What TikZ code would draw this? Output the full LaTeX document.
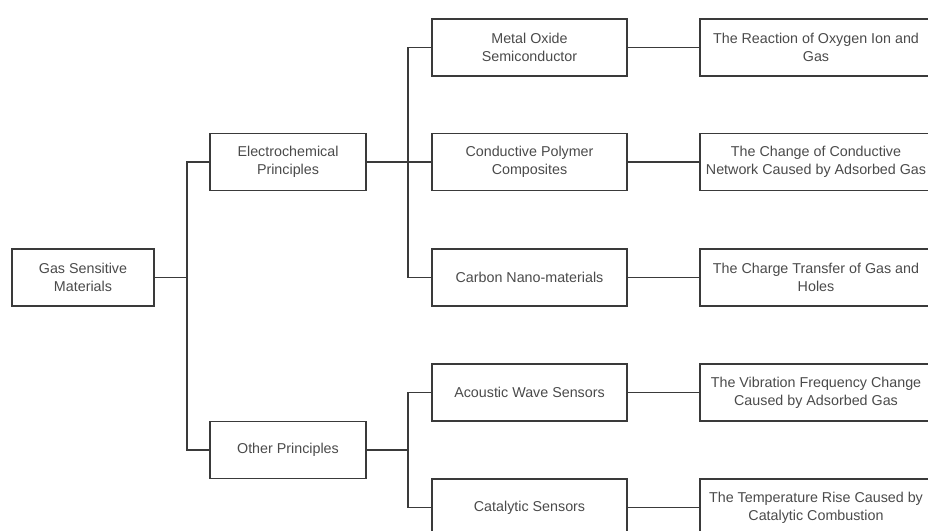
\documentclass[tikz,border=0pt]{standalone}
\usepackage{fontspec}
\setmainfont{Liberation Sans}
\definecolor{linec}{HTML}{3A3A3A}
\definecolor{textc}{HTML}{4A4A4A}
\begin{document}
\begin{tikzpicture}[x=1pt,y=-1pt,
  box/.style={draw=linec, line width=1.3pt, rectangle, align=center, minimum height=57pt,
    inner sep=2pt, text=textc, font=\fontsize{14.3}{18}\selectfont},
  b0/.style={box, minimum width=142pt},
  b1/.style={box, minimum width=156pt},
  b2/.style={box, minimum width=195pt},
  b3/.style={box, minimum width=232pt},
  conn/.style={draw=linec, line width=1.2pt}]
\useasboundingbox (0,0) rectangle (928,530);
\clip (0,0) rectangle (928,530);
\node[b0] (gsm) at (83,277.5) {Gas Sensitive\\Materials};
\node[b1] (ec) at (288,162) {Electrochemical\\Principles};
\node[b1] (op) at (288,450) {Other Principles};
\node[b2] (mo) at (529.5,47.5) {Metal Oxide\\Semiconductor};
\node[b2] (cp) at (529.5,162) {Conductive Polymer\\Composites};
\node[b2] (cn) at (529.5,277.5) {Carbon Nano-materials};
\node[b2] (aw) at (529.5,392.5) {Acoustic Wave Sensors};
\node[b2] (cs) at (529.5,507.5) {Catalytic Sensors};
\node[b3] (r1) at (816,47.5) {The Reaction of Oxygen Ion and\\Gas};
\node[b3] (r2) at (816,162) {The Change of Conductive\\Network Caused by Adsorbed Gas};
\node[b3] (r3) at (816,277.5) {The Charge Transfer of Gas and\\Holes};
\node[b3] (r4) at (816,392.5) {The Vibration Frequency Change\\Caused by Adsorbed Gas};
\node[b3] (r5) at (816,507.5) {The Temperature Rise Caused by\\Catalytic Combustion};
\coordinate (j1) at (187,277.5);
\coordinate (j2) at (408,162);
\coordinate (j3) at (408,450);
\draw[conn] (gsm) -- (j1);
\draw[conn] (j1) |- (ec);
\draw[conn] (j1) |- (op);
\draw[conn] (ec) -- (j2);
\draw[conn] (j2) |- (mo);
\draw[conn] (j2) |- (cp);
\draw[conn] (j2) |- (cn);
\draw[conn] (op) -- (j3);
\draw[conn] (j3) |- (aw);
\draw[conn] (j3) |- (cs);
\draw[conn] (mo) -- (r1);
\draw[conn] (cp) -- (r2);
\draw[conn] (cn) -- (r3);
\draw[conn] (aw) -- (r4);
\draw[conn] (cs) -- (r5);
\end{tikzpicture}
\end{document}
